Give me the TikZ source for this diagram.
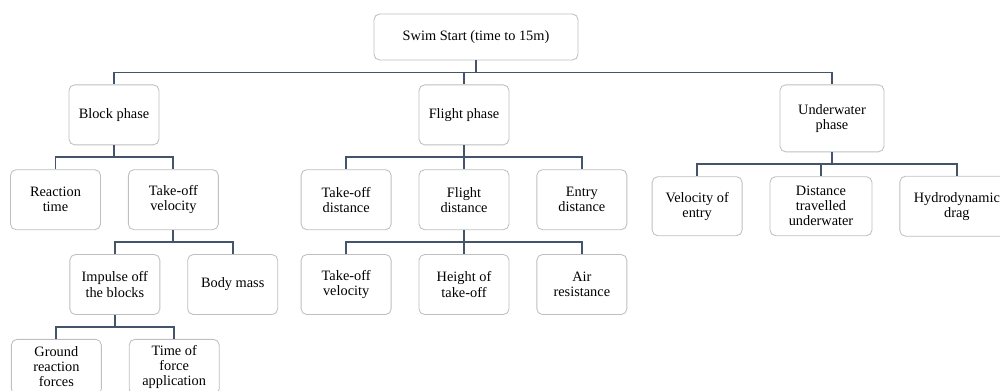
\documentclass[tikz,border=0pt]{standalone}
\usepackage{fontspec}
\setmainfont{Liberation Serif}
\usetikzlibrary{positioning}

\definecolor{linkblue}{HTML}{44546A}
\definecolor{boxgray}{HTML}{BFBFBF}

\begin{document}
\begin{tikzpicture}[
    node distance=0.6cm and 0.675cm,
    box/.style={rectangle, rounded corners=4pt, draw=boxgray, line width=0.6pt, fill=white, minimum width=2.25cm, minimum height=1.5cm, inner sep=2pt, align=center, font=\fontsize{10.2}{10.7}\selectfont},
    link/.style={draw=linkblue, line width=1.3pt}
]

\useasboundingbox (0,0) rectangle (25,-9.75);

% --- Root ---
\node (start) [box, minimum width=5.1cm, minimum height=1.15cm] at (11.9,-0.925) {Swim Start (time to 15m)};

% --- Phases ---
\node (block) [box, below=of start, xshift=-9.05cm] {Block phase};
\node (flight) [box, below=of start, xshift=-0.3cm] {Flight phase};
\node (under) [box, below=of start, xshift=8.9cm, minimum width=2.6cm, minimum height=1.675cm] {Underwater\\phase};

% --- Block phase branch ---
\node (react) [box, below=of block, xshift=-1.4625cm] {Reaction\\time};
\node (tovel) [box, right=of react] {Take-off\\velocity};
\node (impulse) [box, below=of tovel, xshift=-1.4625cm] {Impulse off\\the blocks};
\node (mass) [box, right=of impulse] {Body mass};
\node (grf) [box, below=of impulse, xshift=-1.4625cm, minimum height=1.38cm] {Ground\\reaction\\forces};
\node (tfa) [box, right=of grf, minimum height=1.38cm] {Time of\\force\\application};

% --- Flight phase branch ---
\node (fdist) [box, below=of flight] {Flight\\distance};
\node (todist) [box, left=of fdist] {Take-off\\distance};
\node (entry) [box, right=of fdist] {Entry\\distance};
\node (height) [box, below=of fdist] {Height of\\take-off};
\node (fvel) [box, left=of height] {Take-off\\velocity};
\node (air) [box, right=of height] {Air\\resistance};

% --- Underwater phase branch ---
\node (dist) [box, below=of under, xshift=-0.275cm, minimum width=2.55cm, minimum height=1.475cm] {Distance\\travelled\\underwater};
\node (ventry) [box, left=of dist, minimum height=1.475cm] {Velocity of\\entry};
\node (drag) [box, right=of dist, minimum width=2.85cm, minimum height=1.5cm] {Hydrodynamic\\drag};

% --- Connectors ---
\draw [link] (start.south) -- ++(0,-0.3) -| (block.north);
\draw [link] (start.south) -- ++(0,-0.3) -| (flight.north);
\draw [link] (start.south) -- ++(0,-0.3) -| (under.north);

\draw [link] (block.south) -- ++(0,-0.3) -| (react.north);
\draw [link] (block.south) -- ++(0,-0.3) -| (tovel.north);
\draw [link] (tovel.south) -- ++(0,-0.3) -| (impulse.north);
\draw [link] (tovel.south) -- ++(0,-0.3) -| (mass.north);
\draw [link] (impulse.south) -- ++(0,-0.3) -| (grf.north);
\draw [link] (impulse.south) -- ++(0,-0.3) -| (tfa.north);

\draw [link] (flight.south) -- ++(0,-0.3) -| (todist.north);
\draw [link] (flight.south) -- ++(0,-0.3) -| (fdist.north);
\draw [link] (flight.south) -- ++(0,-0.3) -| (entry.north);
\draw [link] (fdist.south) -- ++(0,-0.3) -| (fvel.north);
\draw [link] (fdist.south) -- ++(0,-0.3) -| (height.north);
\draw [link] (fdist.south) -- ++(0,-0.3) -| (air.north);

\draw [link] (under.south) -- ++(0,-0.3) -| (ventry.north);
\draw [link] (under.south) -- ++(0,-0.3) -| (dist.north);
\draw [link] (under.south) -- ++(0,-0.3) -| (drag.north);

\end{tikzpicture}
\end{document}
